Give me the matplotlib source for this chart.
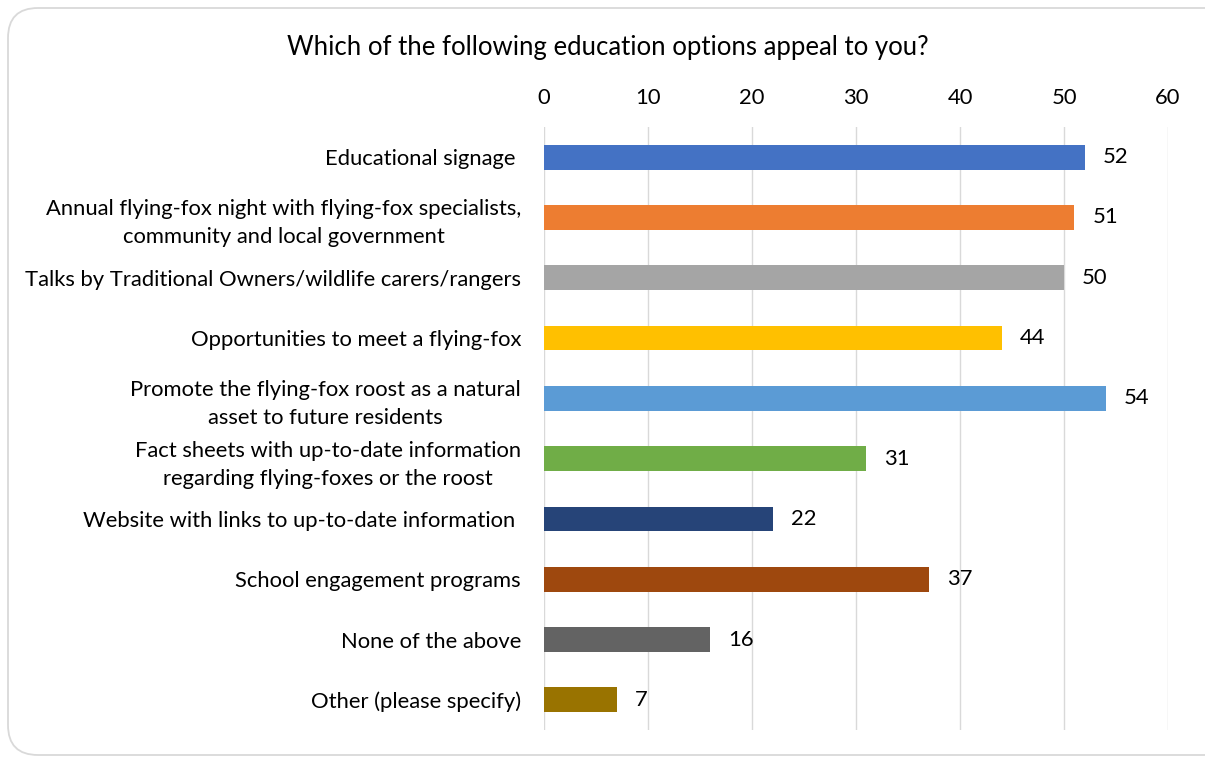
import matplotlib
matplotlib.use("Agg")
import matplotlib.pyplot as plt
from matplotlib.patches import FancyBboxPatch

categories = [
    "Educational signage ",
    "Annual flying-fox night with flying-fox specialists,\ncommunity and local government",
    "Talks by Traditional Owners/wildlife carers/rangers",
    "Opportunities to meet a flying-fox",
    "Promote the flying-fox roost as a natural\nasset to future residents",
    "Fact sheets with up-to-date information\nregarding flying-foxes or the roost",
    "Website with links to up-to-date information ",
    "School engagement programs",
    "None of the above",
    "Other (please specify)",
]
values = [52, 51, 50, 44, 54, 31, 22, 37, 16, 7]
colors = ["#4472C4", "#ED7D31", "#A5A5A5", "#FFC000", "#5B9BD5",
          "#70AD47", "#264478", "#9E480E", "#636363", "#997300"]
ticks = [0, 10, 20, 30, 40, 50, 60]

plt.rcParams['font.family'] = ['Lato', 'DejaVu Sans']
FS = 15.8

fig = plt.figure(figsize=(12.05, 7.61), dpi=100)
fig.patch.set_facecolor("white")
# rounded border in inches (pixel/100); right edge runs past the image
border = FancyBboxPatch((8/100, 6/100), (1260-8)/100, (755-8)/100,
                        boxstyle="round,pad=0,rounding_size=0.3",
                        transform=fig.dpi_scale_trans, facecolor="none",
                        edgecolor="#D9D9D9", linewidth=1.3)
fig.patches.append(border)

ax = fig.add_axes([544/1205, 1-730/761, (1168-544)/1205, (730-127)/761])
ypos = list(range(len(categories)))
ax.barh(ypos, values, height=0.41, color=colors, zorder=3)
ax.set_ylim(len(categories)-0.5, -0.5)
ax.set_xlim(0, 60)
ax.set_xticks(ticks)
ax.set_xticklabels([str(t) for t in ticks])
ax.xaxis.tick_top()
ax.tick_params(axis='x', length=0, labelsize=FS, pad=14, colors="#000000")
ax.set_yticks(ypos)
ax.set_yticklabels(categories, fontsize=FS, multialignment='center', linespacing=1.5)
ax.tick_params(axis='y', length=0, pad=16.5)
ax.grid(axis='x', color="#D9D9D9", linewidth=1, zorder=0)
for s in ax.spines.values():
    s.set_visible(False)

for y, v in zip(ypos, values):
    ax.annotate(str(v), (v, y), xytext=(13, 0), textcoords='offset points',
                va='center', ha='left', fontsize=FS)

fig.text(608/1205, 1-47/761, "Which of the following education options appeal to you?",
         ha='center', va='center', fontsize=18.5)

fig.savefig("out.png", dpi=100)
